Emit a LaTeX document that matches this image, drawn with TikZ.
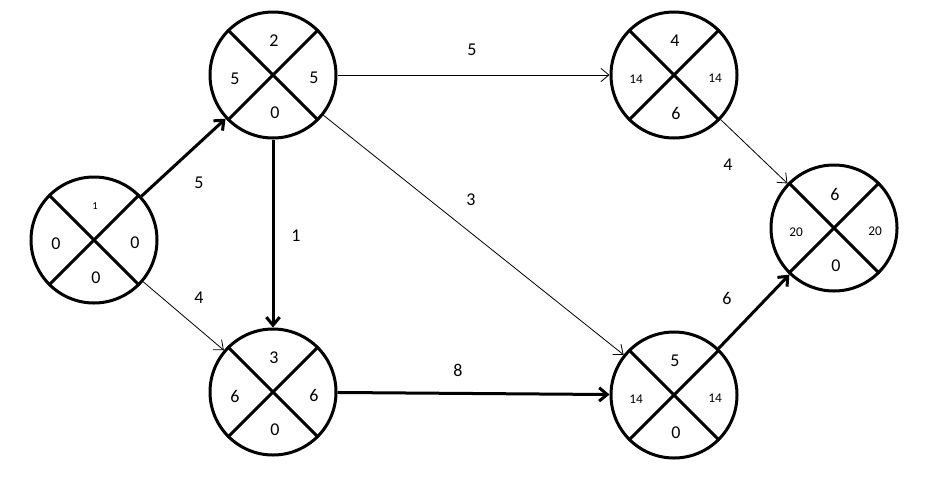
\documentclass[tikz,border=0pt]{standalone}
\usepackage{fontspec}
\setmainfont{Carlito}
\usetikzlibrary{arrows.meta}
\begin{document}
\begin{tikzpicture}[x=0.75pt,y=-0.75pt,
    event/.style={circle,draw,line width=2.25pt,minimum size=94.5pt,inner sep=0pt},
    crit/.style={->,line width=2.25pt},
    act/.style={->,line width=0.6pt},
    >={Straight Barb[length=6pt,width=10pt]},
    num/.style={font=\fontsize{13.5}{15}\selectfont}]
    \useasboundingbox (0,0) rectangle (945,482);
    \foreach \n/\x/\y/\t/\l/\r/\b/\ts/\ss in {n1/94/240/1/0/0/0/8/13.5, n2/273/75/2/5/5/0/13.5/13.5, n3/273/392/3/6/6/0/13.5/13.5, n4/674/75/4/14/14/6/13.5/10, n5/674/395/5/14/14/0/13.5/10, n6/834/228/6/20/20/0/13.5/10}
    {
    \node[event] (\n) at (\x,\y) {};
    \draw[line width=2.25pt] (\n.45) -- (\n.225);
    \draw[line width=2.25pt] (\n.135) -- (\n.315);
    \node[font=\fontsize{\ts}{\ts}\selectfont] (\n-t) at (\x+1,\y-34) {\t};
    \node[font=\fontsize{\ss}{\ss}\selectfont] (\n-l) at (\x-38,\y+4) {\l};
    \node[font=\fontsize{\ss}{\ss}\selectfont] (\n-r) at (\x+41,\y+3) {\r};
    \node[num] (\n-b) at (\x+2,\y+38) {\b};
    }
    \draw[crit] (n1) -- (n2);
    \draw[act] (n1) -- (n3);
    \draw[crit] (n2) -- (n3);
    \draw[act] (n2) -- (n4);
    \draw[act] (n2) -- (n5);
    \draw[crit] (n3) -- (n5);
    \draw[act] (n4) -- (n6);
    \draw[crit] (n5) -- (n6);
    \node[num] (d12) at (199,183) {5};
    \node[num] (d13) at (199,298) {4};
    \node[num] (d23) at (296,236) {1};
    \node[num] (d24) at (472,50) {5};
    \node[num] (d25) at (471,200) {3};
    \node[num] (d35) at (458,370) {8};
    \node[num] (d46) at (728,165) {4};
    \node[num] (d56) at (727,298) {6};
\end{tikzpicture}
\end{document}
